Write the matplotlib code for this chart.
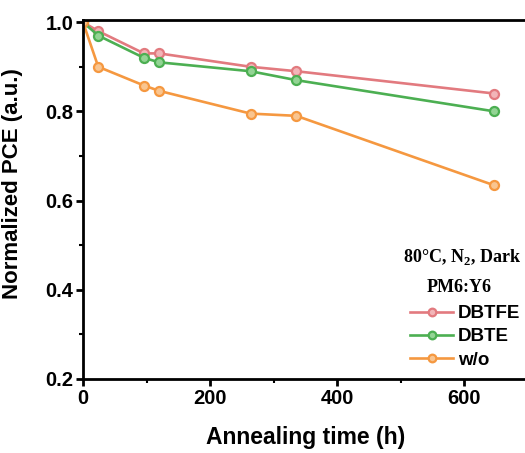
import matplotlib
matplotlib.use("Agg")
import matplotlib.pyplot as plt
from matplotlib.ticker import MultipleLocator

time_h = [0, 24, 96, 120, 264, 336, 648]
dbtfe = [1.0, 0.98, 0.93, 0.93, 0.90, 0.89, 0.84]
dbte = [1.0, 0.97, 0.92, 0.91, 0.89, 0.87, 0.80]
wo = [1.0, 0.90, 0.858, 0.846, 0.795, 0.79, 0.634]
series_names = ["DBTFE", "DBTE", "w/o"]

colors = ["#e27a7f", "#4caf52", "#f59840"]
faces = ["#f2b5b8", "#93d494", "#f9c590"]

plt.rcParams['font.family'] = ['Liberation Sans', 'DejaVu Sans']
plt.rcParams['mathtext.fontset'] = 'custom'
plt.rcParams['mathtext.rm'] = 'Liberation Serif:bold'
plt.rcParams['mathtext.bf'] = 'Liberation Serif:bold'
fig = plt.figure(figsize=(5.25, 4.53), dpi=100)
W, H = 525, 453
x0, y0 = 83, 379
x1, ytop = 83 + 700 * 0.635, 19.5
ax = fig.add_axes([x0 / W, 1 - y0 / H, (x1 - x0) / W, (y0 - ytop) / H])

for vals, name, c, fc in zip([dbtfe, dbte, wo], series_names, colors, faces):
    ax.plot(time_h, vals, '-', color=c, lw=1.9, marker='o', markersize=6.5,
            markerfacecolor=fc, markeredgecolor=c, markeredgewidth=1.6, label=name)

ax.set_xlim(0, 700)
ax.set_ylim(0.2, 1.006)
ax.xaxis.set_major_locator(MultipleLocator(200))
ax.xaxis.set_minor_locator(MultipleLocator(100))
ax.yaxis.set_minor_locator(MultipleLocator(0.1))
ax.set_yticks([0.2, 0.4, 0.6, 0.8, 1.0])
ax.set_yticklabels(["0.2", "0.4", "0.6", "0.8", "1.0"])
ax.tick_params(which='major', direction='out', length=5, width=2, labelsize=14.5, pad=2)
ax.tick_params(which='minor', direction='out', length=3, width=1.5)
for lab in ax.get_xticklabels() + ax.get_yticklabels():
    lab.set_fontweight('bold')
for s in ['left', 'bottom', 'top']:
    ax.spines[s].set_linewidth(2)
ax.spines['right'].set_visible(False)

ax.set_xlabel("Annealing time (h)", fontsize=16.5, fontweight='bold', labelpad=13)
ax.set_ylabel("Normalized PCE (a.u.)", fontsize=16, fontweight='bold', labelpad=8)
ax.yaxis.set_label_coords(-0.135, 0.545)

fig.text(521 / W, 1 - 257 / H, r"80°C, N$_\mathbf{2}$, Dark", ha='right', va='center',
         fontsize=13, fontweight='bold', family=['Liberation Serif', 'DejaVu Serif'])
fig.text(427 / W, 1 - 288 / H, "PM6:Y6", ha='left', va='center',
         fontsize=13, fontweight='bold', family=['Liberation Serif', 'DejaVu Serif'])

leg = ax.legend(loc='upper left', bbox_to_anchor=(410 / W, 1 - 305 / H), bbox_transform=fig.transFigure,
                frameon=False, prop={'weight': 'bold', 'size': 13.5}, handlelength=2.3,
                handletextpad=0.25, labelspacing=0.33, borderaxespad=0, borderpad=0)
for h in leg.legend_handles:
    h.set_markersize(5.5)

fig.savefig("out.png", dpi=100)
